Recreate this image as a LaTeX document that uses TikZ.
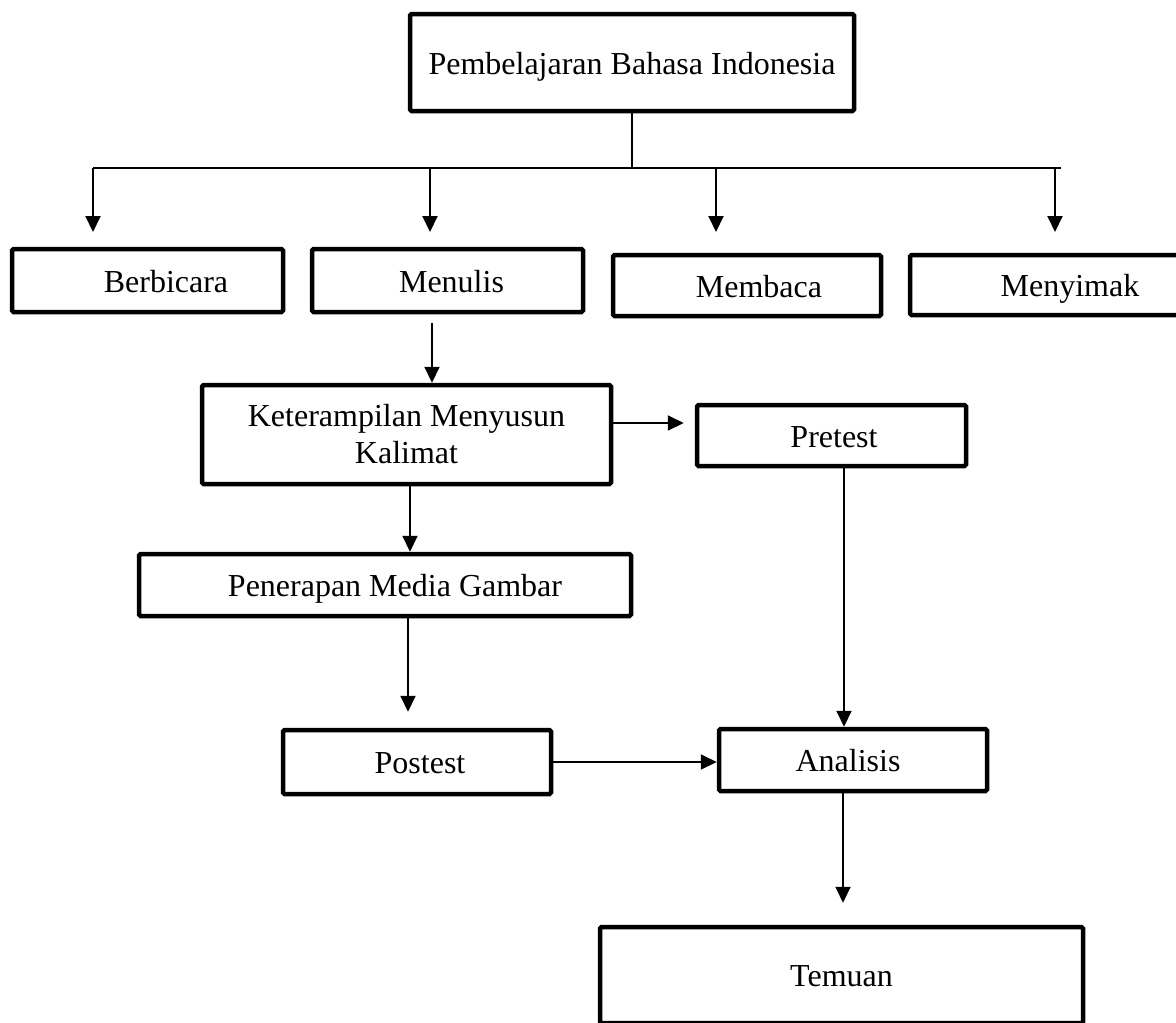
\documentclass[tikz,border=0pt]{standalone}
\usepackage{fontspec}
\setmainfont{Liberation Serif}
\usetikzlibrary{arrows.meta}
\begin{document}
\begin{tikzpicture}[x=1pt,y=-1pt,
  box/.style={draw,line width=4.5pt,rounded corners=1.5pt,inner sep=0pt,font=\fontsize{32}{37}\selectfont,text height=23.5pt,text depth=0pt},
  boxtwo/.style={draw,line width=4.5pt,rounded corners=1.5pt,inner sep=0pt,font=\fontsize{32}{37}\selectfont,align=center},
  line/.style={line width=2pt},
  arr/.style={line width=2pt,-{Triangle[length=16pt,width=15pt]}}]
\useasboundingbox (0,0) rectangle (1176,1023);

% boxes
\node[box,minimum width=444pt,minimum height=97pt] (top) at (632,62.5) {Pembelajaran Bahasa Indonesia};
\node[box,minimum width=271pt,minimum height=63pt] (berb) at (147.5,280.5) {\hspace*{37pt}Berbicara};
\node[box,minimum width=271pt,minimum height=63pt] (menu) at (447.5,280.5) {\hspace*{8pt}Menulis};
\node[box,minimum width=268pt,minimum height=61pt] (memb) at (747,285.5) {\hspace*{24pt}Membaca};
\node[box,minimum width=272pt,minimum height=60pt] (meny) at (1046,285) {\hspace*{48pt}Menyimak};
\node[boxtwo,minimum width=409pt,minimum height=99pt] (ket) at (406.5,434.5) {Keterampilan Menyusun\\Kalimat};
\node[box,minimum width=269pt,minimum height=61pt] (pre) at (831.5,435.5) {\hspace*{5pt}Pretest};
\node[box,minimum width=492pt,minimum height=62pt] (pen) at (385,585) {\hspace*{20pt}Penerapan Media Gambar};
\node[box,minimum width=268pt,minimum height=64pt] (post) at (417,762) {\hspace*{6pt}Postest};
\node[box,minimum width=268pt,minimum height=62pt] (ana) at (853,760) {Analisis\hspace*{10pt}};
\node[box,minimum width=483pt,minimum height=96pt] (tem) at (841.5,975) {Temuan};

% distribution bus
\coordinate (bus) at (632,168);
\coordinate (h1) at (93,168);
\coordinate (h2) at (430,168);
\coordinate (h3) at (716,168);
\coordinate (h4) at (1055,168);
\coordinate (hend) at (1061,168);
\coordinate (t1) at (93,232);
\coordinate (t2) at (430,232);
\coordinate (t3) at (716,232);
\coordinate (t4) at (1055,232);
\draw[line] (top.south) -- (bus);
\draw[line] (h1) -- (hend);
\draw[arr] (h1) -- (t1);
\draw[arr] (h2) -- (t2);
\draw[arr] (h3) -- (t3);
\draw[arr] (h4) -- (t4);

% flow
\coordinate (m1) at (432,323);
\draw[arr] (m1) -- (m1 |- ket.north);
\coordinate (kp) at (613,423);
\draw[arr,shorten >=11pt] (kp) -- (kp -| pre.west);
\coordinate (kq) at (410,486);
\draw[arr] (kq) -- (kq |- pen.north);
\coordinate (pq) at (408,618);
\draw[arr,shorten >=16pt] (pq) -- (pq |- post.north);
\draw[arr] (post.east) -- (post.east -| ana.west);
\coordinate (pa) at (844,468);
\draw[arr] (pa) -- (pa |- ana.north);
\coordinate (at) at (843,793);
\draw[arr,shorten >=22pt] (at) -- (at |- tem.north);
\end{tikzpicture}
\end{document}
